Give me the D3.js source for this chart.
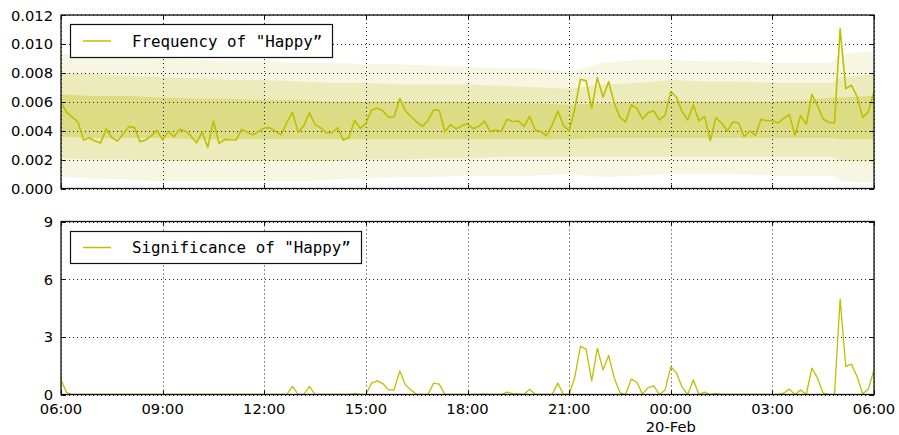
<!DOCTYPE html>
<html><head><meta charset="utf-8">
<script src="https://cdn.jsdelivr.net/npm/d3@7"></script>
<style>html,body{margin:0;padding:0;background:#fff;}svg{display:block;}</style>
</head><body>
<svg id="chart" width="899" height="435"></svg>
<script>
// ---- data ----
const startTime = new Date(2015, 1, 19, 6, 0);
const endTime = new Date(2015, 1, 20, 6, 0);
const stepMinutes = 10;
const freqValues = [
0.00595,0.00526,0.00493,0.0046,0.00335,0.00351,0.00328,0.00314,0.00412,0.00353,
0.00328,0.00377,0.00428,0.00423,0.00323,0.00335,0.00365,0.00402,0.00335,0.00395,
0.00358,0.00409,0.00398,0.00365,0.00316,0.0039,0.00284,0.00467,0.00312,0.0034,
0.00337,0.00335,0.00409,0.0039,0.00372,0.00395,0.00419,0.00419,0.00395,0.00372,
0.00456,0.00528,0.0039,0.00435,0.00523,0.00442,0.00419,0.00386,0.00386,0.00419,
0.00335,0.00353,0.0047,0.00416,0.00451,0.00542,0.00556,0.00537,0.00495,0.00495,
0.00623,0.00537,0.00498,0.0046,0.0043,0.0047,0.00544,0.0054,0.00393,0.00442,
0.00412,0.00435,0.00447,0.00414,0.0043,0.00467,0.00395,0.00405,0.00395,0.00479,
0.00463,0.00467,0.0043,0.00498,0.00405,0.00393,0.00365,0.0044,0.00535,0.00437,
0.00398,0.0055,0.00755,0.00746,0.00555,0.00767,0.00631,0.00739,0.00589,0.00492,
0.0046,0.00578,0.00555,0.00481,0.00525,0.00536,0.00474,0.00508,0.0067,0.00631,
0.00532,0.00474,0.00578,0.00469,0.00499,0.00331,0.0049,0.00453,0.00398,0.0046,
0.00455,0.00358,0.00398,0.00368,0.00478,0.00469,0.00469,0.00453,0.00485,0.00511,
0.00368,0.00504,0.00444,0.00651,0.00571,0.00481,0.00458,0.00453,0.01104,0.00691,
0.00714,0.00635,0.00492,0.00532,0.0067];
const sigValues = [
0.76,0.1,0,0,0,0,0,0,0,0,
0,0,0,0,0,0,0,0,0,0,
0,0,0,0,0,0,0,0,0,0,
0,0,0,0,0,0,0,0,0,0,
0,0.42,0,0,0.42,0,0,0,0,0,
0,0,0.05,0,0,0.59,0.71,0.57,0.24,0.24,
1.23,0.5,0.23,0,0,0,0.59,0.54,0,0,
0,0,0,0,0,0.03,0,0,0,0.12,
0.05,0.03,0,0.28,0,0,0,0,0.59,0,
0,0.9,2.5,2.36,0.71,2.41,1.28,2.03,0.85,0.1,
0,0.8,0.64,0.03,0.36,0.45,0,0.24,1.44,1.14,
0.38,0,0.75,0,0.12,0,0.05,0,0,0,
0,0,0,0,0,0,0,0,0.07,0.28,
0,0.24,0,1.37,0.85,0.07,0,0,4.96,1.46,
1.58,0.94,0.03,0.28,1.28];
const bandHours = [0,1,2,3,4,5,6,7,8,9,10,11,12,13,14,15,16,17,18,19,20,21,22,22.75,23,24];
const outerHi = [0.0093,0.0092,0.0091,0.0090,0.0089,0.0088,0.0088,0.0087,0.0087,0.0086,0.0086,0.0085,0.0084,0.0083,0.0083,0.0081,0.0087,0.0089,0.0089,0.0088,0.0088,0.0087,0.0087,0.0087,0.0093,0.0095];
const midHi   = [0.0080,0.0079,0.0078,0.0077,0.0076,0.0075,0.0075,0.0074,0.0073,0.0073,0.0072,0.0072,0.0072,0.0071,0.0070,0.0069,0.0072,0.0073,0.0075,0.0074,0.0074,0.0073,0.0073,0.0073,0.0077,0.0079];
const innerHi = [0.0065,0.0064,0.0064,0.0063,0.0062,0.0062,0.0061,0.0061,0.0060,0.0060,0.0060,0.0060,0.0060,0.0059,0.0059,0.0058,0.0059,0.0060,0.0061,0.0060,0.0060,0.0060,0.0061,0.0063,0.0063,0.0064];
const innerLo = [0.0036,0.0035,0.0035,0.0035,0.0034,0.0034,0.0034,0.0034,0.0034,0.0034,0.0034,0.0034,0.0034,0.0034,0.0034,0.0034,0.0035,0.0035,0.0035,0.0035,0.0035,0.0035,0.0035,0.0035,0.0034,0.0034];
const midLo   = [0.0021,0.0020,0.0020,0.0019,0.0019,0.0019,0.0019,0.0019,0.0019,0.0020,0.0020,0.0021,0.0021,0.0022,0.0022,0.0022,0.0022,0.0022,0.0022,0.0022,0.0022,0.0022,0.0022,0.0022,0.0019,0.0018];
const outerLo = [0.0008,0.0007,0.0006,0.0005,0.0005,0.0005,0.0005,0.0005,0.0006,0.0007,0.0008,0.0008,0.0009,0.0009,0.0009,0.0010,0.0008,0.0009,0.0010,0.0010,0.0010,0.0009,0.0009,0.0009,0.0005,0.0004];
const topTicks = [0, 0.002, 0.004, 0.006, 0.008, 0.010, 0.012];
const botTicks = [0, 3, 6, 9];
const freqLabel = 'Frequency of "Happy\u201D';
const sigLabel = 'Significance of "Happy\u201D';
const dateLabel = '20-Feb';

// ---- layout ----
const svg = d3.select('#chart');
const L = 61, R = 874;
const lineColor = '#bfbf00';
const x = d3.scaleTime().domain([startTime, endTime]).range([L, R]);
const yTop = d3.scaleLinear().domain([0, 0.012]).range([188.5, 15]);
const yBot = d3.scaleLinear().domain([0, 9]).range([394.5, 221.5]);
const times = freqValues.map((_, i) => d3.timeMinute.offset(startTime, i * stepMinutes));
const bandTimes = bandHours.map(h => new Date(startTime.getTime() + h * 3600000));
const xTicks = x.ticks(d3.timeHour.every(3));
const fmt = d3.timeFormat('%H:%M');

const defs = svg.append('defs');
function addClip(id, y) {
  defs.append('clipPath').attr('id', id).append('rect')
    .attr('x', L).attr('y', y.range()[1]).attr('width', R - L).attr('height', y.range()[0] - y.range()[1]);
}
addClip('clipTop', yTop); addClip('clipBot', yBot);

function drawPanel(y, ticks, tickFmt, clipId, drawBands, drawLine) {
  const g = svg.append('g');
  const y0 = y.range()[0], y1 = y.range()[1];
  const bandLayer = g.append('g').attr('clip-path', `url(#${clipId})`);
  drawBands(bandLayer);
  const grid = g.append('g').attr('stroke', '#222').attr('stroke-width', 1).attr('stroke-dasharray', '1,3');
  xTicks.forEach(t => {
    const xx = Math.round(x(t)) + 0.5;
    grid.append('line').attr('x1', xx).attr('x2', xx).attr('y1', y1).attr('y2', y0);
  });
  ticks.forEach(v => {
    const yy = Math.round(y(v)) + 0.5;
    grid.append('line').attr('x1', L).attr('x2', R).attr('y1', yy).attr('y2', yy);
  });
  const lineLayer = g.append('g').attr('clip-path', `url(#${clipId})`);
  drawLine(lineLayer);
  const tk = g.append('g').attr('stroke', '#111').attr('stroke-width', 1);
  xTicks.forEach(t => {
    const xx = Math.round(x(t)) + 0.5;
    tk.append('line').attr('x1', xx).attr('x2', xx).attr('y1', y0).attr('y2', y0 - 4);
    tk.append('line').attr('x1', xx).attr('x2', xx).attr('y1', y1).attr('y2', y1 + 4);
  });
  ticks.forEach(v => {
    const yy = Math.round(y(v)) + 0.5;
    tk.append('line').attr('x1', L).attr('x2', L + 4).attr('y1', yy).attr('y2', yy);
    tk.append('line').attr('x1', R).attr('x2', R - 4).attr('y1', yy).attr('y2', yy);
  });
  g.append('rect').attr('x', L).attr('y', y1)
    .attr('width', R - L).attr('height', y0 - y1)
    .attr('fill', 'none').attr('stroke', '#111').attr('stroke-width', 1.3);
  ticks.forEach(v => {
    g.append('text').attr('x', 53).attr('y', y(v) + 5.5).attr('text-anchor', 'end')
      .attr('font-family', 'DejaVu Sans').attr('font-size', 14.7).attr('fill', '#000')
      .text(tickFmt(v));
  });
}

const bandArea = (lo, hi) => d3.area()
  .x((d, i) => x(bandTimes[i])).y0((d, i) => yTop(lo[i])).y1((d, i) => yTop(hi[i]));

drawPanel(yTop, topTicks, d3.format('.3f'), 'clipTop', layer => {
  layer.append('path').datum(bandHours).attr('d', bandArea(outerLo, outerHi)).attr('fill', '#f6f6e2');
  layer.append('path').datum(bandHours).attr('d', bandArea(midLo, midHi)).attr('fill', '#ebebbb');
  layer.append('path').datum(bandHours).attr('d', bandArea(innerLo, innerHi)).attr('fill', '#dcdc84');
}, layer => {
  layer.append('path').datum(freqValues)
    .attr('d', d3.line().x((d, i) => x(times[i])).y(d => yTop(d)))
    .attr('fill', 'none').attr('stroke', lineColor).attr('stroke-width', 1.6).attr('stroke-linejoin', 'round');
});

drawPanel(yBot, botTicks, d3.format('d'), 'clipBot', layer => {}, layer => {
  layer.append('path').datum(sigValues)
    .attr('d', d3.line().x((d, i) => x(times[i])).y(d => yBot(d)))
    .attr('fill', 'none').attr('stroke', lineColor).attr('stroke-width', 1.3).attr('stroke-linejoin', 'round');
});

// x tick labels
xTicks.forEach(t => {
  svg.append('text').attr('x', x(t)).attr('y', 414).attr('text-anchor', 'middle')
    .attr('font-family', 'DejaVu Sans').attr('font-size', 14.7).attr('fill', '#000').text(fmt(t));
  if (t.getHours() === 0) {
    svg.append('text').attr('x', x(t)).attr('y', 432).attr('text-anchor', 'middle')
      .attr('font-family', 'DejaVu Sans').attr('font-size', 14.7).attr('fill', '#000').text(dateLabel);
  }
});

// legends
function legend(bx, by, bw, bh, label) {
  const g = svg.append('g');
  g.append('rect').attr('x', bx + 0.5).attr('y', by + 0.5).attr('width', bw).attr('height', bh)
    .attr('fill', '#fff').attr('stroke', '#111').attr('stroke-width', 1.2);
  g.append('line').attr('x1', bx + 13).attr('x2', bx + 41).attr('y1', by + bh / 2 + 0.5).attr('y2', by + bh / 2 + 0.5)
    .attr('stroke', lineColor).attr('stroke-width', 1.5);
  g.append('text').attr('x', bx + 62).attr('y', by + bh / 2 + 6)
    .attr('font-family', 'DejaVu Sans Mono').attr('font-size', 15.8).attr('fill', '#000')
    .text(label);
}
legend(70, 24, 262, 33, freqLabel);
legend(70, 231, 291, 32, sigLabel);
</script>
</body></html>
